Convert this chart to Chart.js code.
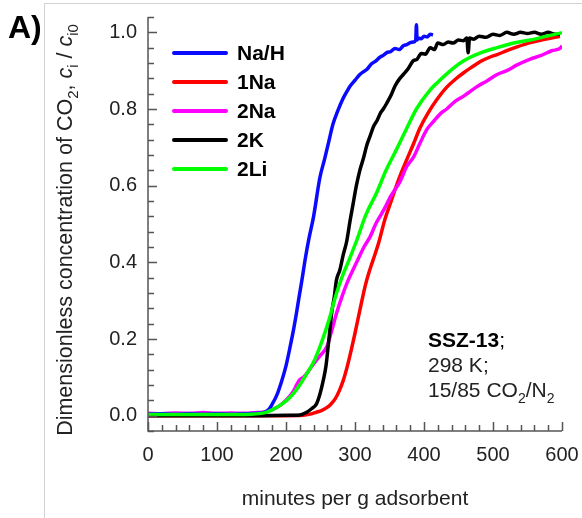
<!DOCTYPE html>
<html>
<head>
<meta charset="utf-8">
<script src="https://cdn.jsdelivr.net/npm/chart.js@4/dist/chart.umd.min.js"></script>
<style>
  html, body { margin: 0; padding: 0; background: #fff; }
  #wrap { position: relative; width: 582px; height: 518px; }
</style>
</head>
<body>
<div id="wrap"><canvas id="breakthrough" width="582" height="518"></canvas></div>
<script>
// breakthrough curves, CO2 outlet concentration vs minutes per g adsorbent
const seriesNames = ["Na/H", "1Na", "2Na", "2K", "2Li"];
const seriesColors = ["#0a0aff", "#ff0000", "#ff00ff", "#000000", "#00ff00"];

const naH_t = [0, 20, 40, 60, 80, 100, 120, 140, 160, 170, 175, 180, 187, 194, 200, 206, 211, 215, 219, 223, 228, 233, 240, 249, 256, 262, 268, 275, 282, 288, 293, 300, 307, 312, 317, 324, 330, 336, 341, 346, 352, 358, 364, 370, 375, 380, 385, 388, 389, 390, 392, 396, 400, 405, 409, 413];
const naH_c = [0.004, 0.005, 0.004, 0.005, 0.004, 0.005, 0.004, 0.005, 0.006, 0.01, 0.016, 0.03, 0.055, 0.092, 0.13, 0.18, 0.225, 0.266, 0.31, 0.353, 0.41, 0.46, 0.52, 0.62, 0.67, 0.715, 0.76, 0.795, 0.825, 0.845, 0.86, 0.875, 0.89, 0.897, 0.903, 0.918, 0.925, 0.935, 0.94, 0.947, 0.95, 0.958, 0.955, 0.965, 0.968, 0.973, 0.975, 0.98, 1.02, 0.98, 0.985, 0.983, 0.99, 0.988, 0.995, 0.993];

const na1_t = [0, 50, 100, 150, 200, 225, 235, 244, 252, 259, 265, 271, 277, 283, 289, 295, 300, 305, 310, 315, 320, 326, 334, 343, 353, 364, 375, 385, 394, 406, 420, 433, 445, 457, 470, 483, 495, 506, 520, 535, 554, 575, 597];
const na1_c = [0, 0, 0, 0, 0, 0.001, 0.004, 0.009, 0.014, 0.021, 0.03, 0.043, 0.064, 0.092, 0.13, 0.175, 0.215, 0.258, 0.30, 0.34, 0.372, 0.405, 0.449, 0.51, 0.563, 0.62, 0.668, 0.71, 0.75, 0.79, 0.828, 0.857, 0.877, 0.894, 0.91, 0.925, 0.935, 0.942, 0.952, 0.962, 0.973, 0.982, 0.99];

const na2_t = [0, 20, 40, 60, 80, 100, 120, 140, 160, 170, 180, 190, 200, 210, 216, 220, 225, 230, 240, 250, 259, 266, 273, 281, 290, 297, 305, 313, 322, 330, 338, 345, 351, 358, 365, 375, 385, 394, 404, 415, 425, 433, 445, 457, 470, 480, 490, 506, 520, 535, 554, 570, 585, 597, 600];
const na2_c = [0.006, 0.005, 0.007, 0.006, 0.008, 0.006, 0.007, 0.006, 0.008, 0.01, 0.016, 0.025, 0.04, 0.062, 0.082, 0.094, 0.1, 0.11, 0.135, 0.158, 0.179, 0.22, 0.266, 0.31, 0.353, 0.38, 0.41, 0.44, 0.467, 0.50, 0.525, 0.548, 0.57, 0.59, 0.61, 0.65, 0.675, 0.71, 0.746, 0.77, 0.79, 0.80, 0.82, 0.833, 0.85, 0.862, 0.872, 0.89, 0.9, 0.915, 0.93, 0.94, 0.952, 0.958, 0.965];

const k2_t = [0, 50, 100, 150, 200, 220, 230, 237, 244, 249, 254, 258, 261, 264, 266, 270, 273, 278, 283, 288, 293, 297, 302, 307, 312, 317, 322, 327, 332, 337, 341, 346, 352, 358, 365, 370, 377, 384, 390, 396, 402, 409, 415, 420, 428, 435, 442, 450, 457, 462, 464, 466, 472, 480, 490, 500, 510, 520, 530, 540, 550, 560, 570, 580, 590, 597];
const k2_c = [0, 0, 0, 0, 0.001, 0.002, 0.009, 0.018, 0.03, 0.055, 0.092, 0.13, 0.179, 0.23, 0.266, 0.31, 0.353, 0.38, 0.42, 0.455, 0.51, 0.55, 0.60, 0.64, 0.67, 0.705, 0.73, 0.755, 0.77, 0.79, 0.80, 0.815, 0.835, 0.86, 0.88, 0.89, 0.905, 0.925, 0.93, 0.945, 0.943, 0.96, 0.955, 0.972, 0.968, 0.975, 0.972, 0.98, 0.978, 0.985, 0.947, 0.985, 0.982, 0.99, 0.987, 0.995, 0.992, 1.0, 0.995, 1.0, 0.997, 1.0, 0.995, 1.0, 0.995, 0.995];

const li2_t = [0, 50, 100, 150, 170, 182, 194, 206, 218, 230, 240, 249, 257, 264, 270, 276, 283, 290, 302, 316, 331, 345, 360, 375, 389, 409, 420, 435, 457, 480, 506, 530, 554, 578, 600];
const li2_c = [0.003, 0.003, 0.003, 0.004, 0.008, 0.017, 0.03, 0.048, 0.075, 0.109, 0.14, 0.179, 0.22, 0.26, 0.30, 0.335, 0.37, 0.40, 0.455, 0.525, 0.58, 0.64, 0.694, 0.75, 0.80, 0.85, 0.87, 0.895, 0.925, 0.945, 0.96, 0.972, 0.98, 0.99, 0.999];

const xTickValues = [0, 100, 200, 300, 400, 500, 600];
const yTickValues = [0, 0.2, 0.4, 0.6, 0.8, 1.0];

const FONT = "'Liberation Sans', Arial, sans-serif";
const AXIS_COLOR = "#555";
const TEXT_COLOR = "#222";

function pts(ts, cs) {
  return ts.map((t, i) => ({ x: t, y: cs[i] }));
}

const seriesData = [pts(naH_t, naH_c), pts(na1_t, na1_c), pts(na2_t, na2_c), pts(k2_t, k2_c), pts(li2_t, li2_c)];
// lower order is drawn on top
const drawOrder = [3, 5, 4, 2, 1];

// draws a run of [text, style] pieces; style: b = bold, i = italic, s = subscript
function richText(ctx, x, y, parts, size) {
  let cx = x;
  parts.forEach(([txt, st]) => {
    st = st || "";
    const sz = st.includes("s") ? Math.round(size * 0.68) : size;
    ctx.font = (st.includes("i") ? "italic " : "") + (st.includes("b") ? "bold " : "") + sz + "px " + FONT;
    ctx.fillText(txt, cx, st.includes("s") ? y + size * 0.28 : y);
    cx += ctx.measureText(txt).width;
  });
  return cx - x;
}

function measureRich(ctx, parts, size) {
  let w = 0;
  parts.forEach(([txt, st]) => {
    st = st || "";
    const sz = st.includes("s") ? Math.round(size * 0.68) : size;
    ctx.font = (st.includes("i") ? "italic " : "") + (st.includes("b") ? "bold " : "") + sz + "px " + FONT;
    w += ctx.measureText(txt).width;
  });
  return w;
}

function noPadding(s) {
  s.paddingLeft = 0;
  s.paddingRight = 0;
  s.paddingTop = 0;
  s.paddingBottom = 0;
}

const decor = {
  id: "decor",
  beforeDraw(chart) {
    const ctx = chart.ctx;
    ctx.save();
    ctx.strokeStyle = "#d2d2d2";
    ctx.lineWidth = 1;
    ctx.beginPath();
    ctx.moveTo(44.5, 518);
    ctx.lineTo(44.5, 3.5);
    ctx.lineTo(582, 3.5);
    ctx.stroke();
    ctx.restore();
  },
  afterDraw(chart) {
    const ctx = chart.ctx;
    const area = chart.chartArea;
    const xs = chart.scales.x;
    const ys = chart.scales.y;
    ctx.save();

    // axes and inward ticks
    ctx.strokeStyle = AXIS_COLOR;
    ctx.lineWidth = 1.5;
    ctx.beginPath();
    ctx.moveTo(area.left, area.top);
    ctx.lineTo(area.left, area.bottom);
    ctx.lineTo(area.right, area.bottom);
    ctx.stroke();
    ctx.beginPath();
    for (let k = 0; k <= 30; k++) {
      const px = Math.round(xs.getPixelForValue(k * 20)) + 0.5;
      const len = k % 5 === 0 ? 9 : 6;
      ctx.moveTo(px, area.bottom);
      ctx.lineTo(px, area.bottom - len);
    }
    for (let k = -1; k <= 26; k++) {
      const py = Math.round(ys.getPixelForValue(k * 0.04)) + 0.5;
      const len = k % 5 === 0 ? 9 : 6;
      ctx.moveTo(area.left, py);
      ctx.lineTo(area.left + len, py);
    }
    ctx.stroke();

    // panel label
    ctx.fillStyle = "#000";
    ctx.textBaseline = "alphabetic";
    ctx.textAlign = "left";
    ctx.font = "bold 32px " + FONT;
    ctx.fillText("A)", 8, 38);

    // legend
    chart.data.datasets.forEach((ds, i) => {
      const y = 53 + i * 29;
      ctx.strokeStyle = ds.borderColor;
      ctx.lineWidth = 4;
      ctx.lineCap = "round";
      ctx.beginPath();
      ctx.moveTo(174, y);
      ctx.lineTo(226, y);
      ctx.stroke();
      ctx.fillStyle = "#000";
      ctx.font = "bold 21px " + FONT;
      ctx.textBaseline = "middle";
      ctx.fillText(ds.label, 237, y + 1);
    });

    // annotation
    ctx.textBaseline = "alphabetic";
    ctx.fillStyle = "#000";
    richText(ctx, 428, 347, [["SSZ-13", "b"], [";"]], 21);
    ctx.fillStyle = TEXT_COLOR;
    richText(ctx, 428, 372, [["298 K;"]], 21);
    richText(ctx, 428, 397, [["15/85 CO"], ["2", "s"], ["/N"], ["2", "s"]], 21);

    // x title
    ctx.font = "21px " + FONT;
    ctx.textAlign = "center";
    ctx.fillText("minutes per g adsorbent", (area.left + area.right) / 2, 505);

    // y title, rotated
    const yParts = [["Dimensionless concentration of CO"], ["2", "s"], [", "], ["c", "i"], ["i", "s"], [" / "], ["c", "i"], ["i0", "s"]];
    const w = measureRich(ctx, yParts, 21.5);
    ctx.translate(72, 230);
    ctx.rotate(-Math.PI / 2);
    ctx.textAlign = "left";
    richText(ctx, -w / 2, 0, yParts, 21.5);

    ctx.restore();
  },
};

new Chart(document.getElementById("breakthrough"), {
  type: "line",
  data: {
    datasets: seriesNames.map((name, i) => ({
      label: name,
      data: seriesData[i],
      borderColor: seriesColors[i],
      backgroundColor: seriesColors[i],
      borderWidth: 3.5,
      pointRadius: 0,
      cubicInterpolationMode: "monotone",
      order: drawOrder[i],
    })),
  },
  options: {
    responsive: false,
    animation: false,
    parsing: false,
    layout: { padding: { left: 0, top: 17, right: 20, bottom: 0 } },
    plugins: { legend: { display: false }, tooltip: { enabled: false } },
    scales: {
      x: {
        type: "linear",
        min: 0,
        max: 600,
        afterBuildTicks: (s) => { s.ticks = xTickValues.map((v) => ({ value: v })); },
        afterFit: (s) => { s.height = 87; noPadding(s); },
        grid: { display: false, drawTicks: false },
        border: { display: false },
        ticks: {
          padding: 12,
          color: TEXT_COLOR,
          font: { family: FONT, size: 20 },
          maxRotation: 0,
          callback: (v) => String(v),
        },
      },
      y: {
        type: "linear",
        min: -0.04,
        max: 1.04,
        afterBuildTicks: (s) => { s.ticks = yTickValues.map((v) => ({ value: v })); },
        afterFit: (s) => { s.width = 148; noPadding(s); },
        grid: { display: false, drawTicks: false },
        border: { display: false },
        ticks: {
          padding: 11,
          color: TEXT_COLOR,
          font: { family: FONT, size: 20 },
          callback: (v) => Number(v).toFixed(1),
        },
      },
    },
  },
  plugins: [decor],
});
</script>
</body>
</html>
